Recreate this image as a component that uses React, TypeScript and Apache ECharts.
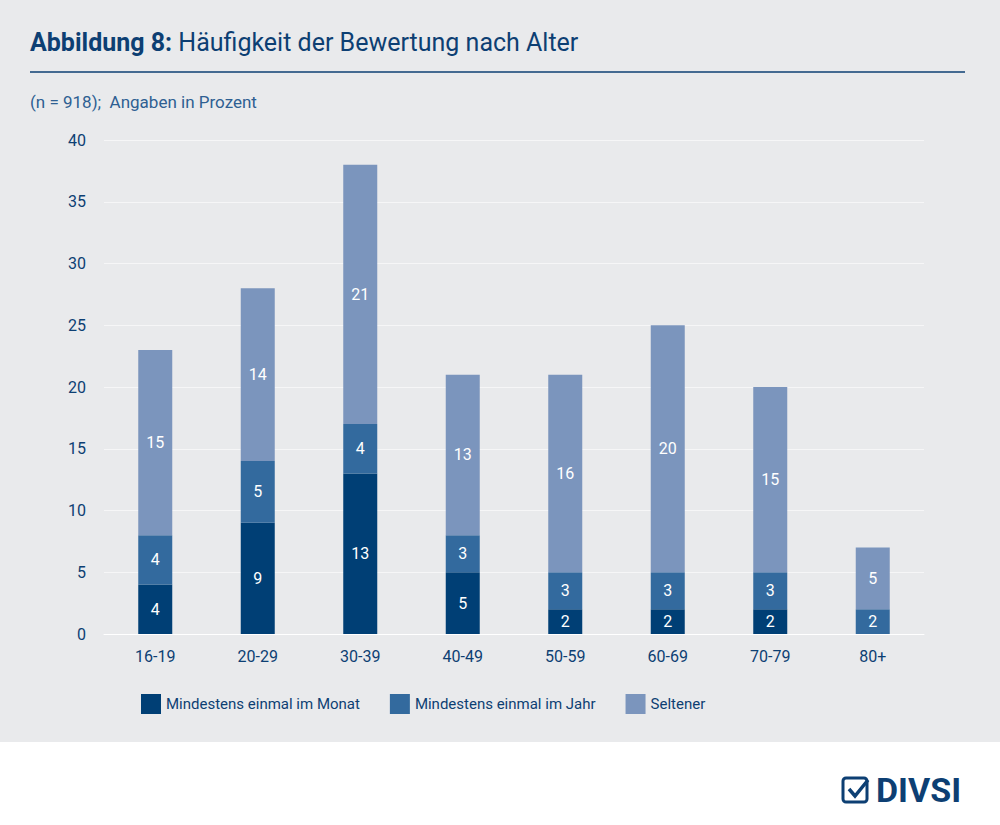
import { useEffect, useRef } from "react";
import * as echarts from "echarts";

const categories = ["16-19", "20-29", "30-39", "40-49", "50-59", "60-69", "70-79", "80+"];
const monat = [4, 9, 13, 5, 2, 2, 2, 0];
const jahr = [4, 5, 4, 3, 3, 3, 3, 2];
const seltener = [15, 14, 21, 13, 16, 20, 15, 5];
const seriesNames = ["Mindestens einmal im Monat", "Mindestens einmal im Jahr", "Seltener"];
const colors = ["#003f75", "#336a9e", "#7b95bd"];

export default function App() {
  const ref = useRef<HTMLDivElement | null>(null);

  useEffect(() => {
    document.body.style.margin = "0";
    if (!ref.current) return;
    const chart = echarts.init(ref.current, null, { renderer: "svg" });
    const mk = (name: string, data: number[], i: number) => ({
      name,
      type: "bar",
      stack: "a",
      data: data.map((v) => (v === 0 ? null : v)),
      barWidth: 34,
      itemStyle: { color: colors[i] },
      label: {
        show: true,
        color: "#fff",
        fontSize: 16,
        fontFamily: "Roboto",
      },
    });
    chart.setOption({
      animation: false,
      backgroundColor: "#fff",
      textStyle: { fontFamily: "Roboto" },
      grid: { left: 104, right: 76, top: 140, bottom: 191 },
      xAxis: {
        type: "category",
        data: categories,
        axisTick: { show: false },
        axisLine: { lineStyle: { color: "#ffffff" } },
        axisLabel: { color: "#0d3f73", fontSize: 16, margin: 14 },
      },
      yAxis: {
        type: "value",
        min: 0,
        max: 40,
        interval: 5,
        axisLabel: { color: "#0d3f73", fontSize: 16, margin: 18 },
        splitLine: { lineStyle: { color: "#f6f6f7" } },
      },
      legend: {
        left: 136,
        top: 689,
        itemWidth: 20,
        itemHeight: 20,
        itemGap: 30,
        icon: "rect",
        textStyle: { color: "#0d3f73", fontSize: 15 },
        data: seriesNames,
      },
      graphic: [
        { type: "rect", z: -10, shape: { x: 0, y: 0, width: 1000, height: 742 }, style: { fill: "#e9eaec" } },
        {
          type: "text",
          left: 30,
          top: 30,
          style: {
            text: "{b|Abbildung 8:} Häufigkeit der Bewertung nach Alter",
            fontSize: 25,
            fill: "#0d3f73",
            fontFamily: "Roboto",
            rich: { b: { fontWeight: "bold", fontSize: 25, fill: "#0d3f73", fontFamily: "Roboto" } },
          },
        },
        { type: "line", shape: { x1: 30, y1: 72, x2: 965, y2: 72 }, style: { stroke: "#0d3f73", lineWidth: 1.5 } },
        {
          type: "text",
          left: 30,
          top: 93,
          style: { text: "(n = 918);  Angaben in Prozent", fontSize: 17, fill: "#2e5f92", fontFamily: "Roboto" },
        },
        { type: "rect", shape: { x: 843, y: 778, width: 24, height: 24, r: 3 }, style: { fill: "none", stroke: "#0d3f73", lineWidth: 3 } },
        { type: "polyline", shape: { points: [[849, 789], [855, 796], [868, 780]] }, style: { fill: "none", stroke: "#0d3f73", lineWidth: 3.5 } },
        {
          type: "text",
          left: 876,
          top: 773,
          style: { text: "DIVSI", fontSize: 34, fontWeight: "bold", fill: "#0d3f73", fontFamily: "Roboto" },
        },
      ],
      series: [mk(seriesNames[0], monat, 0), mk(seriesNames[1], jahr, 1), mk(seriesNames[2], seltener, 2)],
    });
    return () => chart.dispose();
  }, []);

  return <div ref={ref} style={{ width: 1000, height: 825 }} />;
}
